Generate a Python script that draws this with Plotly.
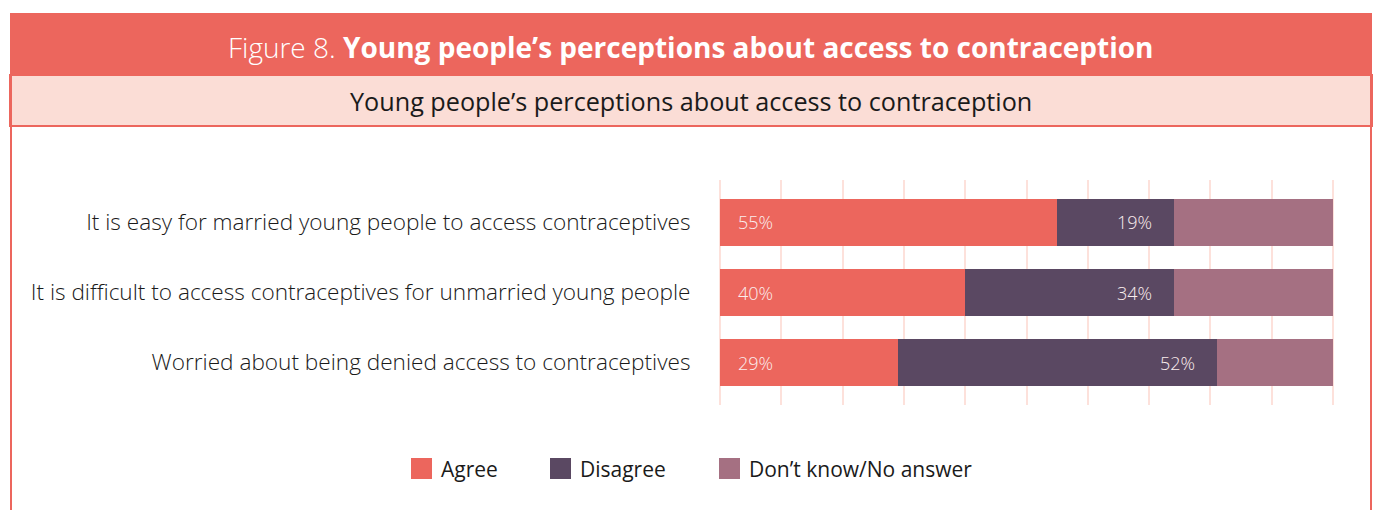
import plotly.graph_objects as go

categories = [
    "It is easy for married young people to access contraceptives",
    "It is difficult to access contraceptives for unmarried young people",
    "Worried about being denied access to contraceptives",
]
series_names = ["Agree", "Disagree", "Don’t know/No answer"]
agree = [55, 40, 29]
disagree = [19, 34, 52]
dont_know = [26, 26, 19]
colors = ["#ec665d", "#5a4862", "#a57082"]

W, H = 1378, 510
FONT = "Open Sans"

fig = go.Figure()
values = [agree, disagree, dont_know]
for name, vals, col in zip(series_names, values, colors):
    fig.add_trace(go.Bar(
        y=categories, x=vals, name=name, orientation="h",
        marker=dict(color=col, line=dict(width=0)),
        width=0.67, showlegend=False, hoverinfo="skip",
    ))

annotations = []
LABEL_FONT = dict(family=FONT, size=18, color="#fbeeee", weight=300)
for i, cat in enumerate(categories):
    annotations.append(dict(
        x=0, y=cat, xref="x", yref="y", text=f"{agree[i]}%",
        xanchor="left", xshift=16, showarrow=False, font=LABEL_FONT,
    ))
    annotations.append(dict(
        x=agree[i] + disagree[i], y=cat, xref="x", yref="y", text=f"{disagree[i]}%",
        xanchor="right", xshift=-20, showarrow=False, font=LABEL_FONT,
    ))

# header texts
annotations.append(dict(
    x=691 / W, y=1 - 47 / H, xref="paper", yref="paper",
    text="Figure 8. <b>Young people’s perceptions about access to contraception</b>",
    showarrow=False, xanchor="center", yanchor="middle",
    font=dict(family=FONT, size=28, color="white", weight=300),
))
annotations.append(dict(
    x=691 / W, y=1 - 101 / H, xref="paper", yref="paper",
    text="Young people’s perceptions about access to contraception",
    showarrow=False, xanchor="center", yanchor="middle",
    font=dict(family=FONT, size=25.2, color="#1a1a1a"),
))

RED = "#ec665d"
shapes = [
    dict(type="rect", xref="paper", yref="paper", x0=10 / W, x1=1372 / W,
         y0=1 - 75 / H, y1=1 - 13 / H, fillcolor=RED, line=dict(width=0), layer="below"),
    dict(type="rect", xref="paper", yref="paper", x0=10 / W, x1=1372 / W,
         y0=1 - 126 / H, y1=1 - 75 / H, fillcolor="#fbddd6",
         line=dict(color=RED, width=2), layer="below"),
    dict(type="line", xref="paper", yref="paper", x0=11 / W, x1=11 / W,
         y0=0, y1=1 - 75 / H, line=dict(color=RED, width=2)),
    dict(type="line", xref="paper", yref="paper", x0=1371 / W, x1=1371 / W,
         y0=0, y1=1 - 75 / H, line=dict(color=RED, width=2)),
]

# legend (drawn as swatches + text)
legend_x = [411, 550, 719]
legend_yc = 468.5
SW = 21
for name, col, lx in zip(series_names, colors, legend_x):
    shapes.append(dict(type="rect", xref="paper", yref="paper",
                       x0=lx / W, x1=(lx + SW) / W,
                       y0=1 - (legend_yc + SW / 2) / H, y1=1 - (legend_yc - SW / 2) / H,
                       fillcolor=col, line=dict(width=0)))
    annotations.append(dict(
        x=(lx + SW + 7) / W, y=1 - legend_yc / H, xref="paper", yref="paper",
        text=name, showarrow=False, xanchor="left", yanchor="middle",
        font=dict(family=FONT, size=21, color="#1a1a1a"),
    ))

PX = (1333 - 720) / 100.0
PAD = 0.5
fig.update_layout(
    width=W, height=H,
    margin=dict(l=0, r=0, t=0, b=0),
    paper_bgcolor="white", plot_bgcolor="white",
    barmode="stack",
    showlegend=False,
    xaxis=dict(domain=[(720 - PAD * PX) / W, (1333 + PAD * PX) / W], range=[-PAD, 100 + PAD],
               tick0=0, dtick=10, showgrid=True,
               gridcolor="#fde1db", gridwidth=2, zeroline=False, showticklabels=False,
               showline=False, fixedrange=True),
    yaxis=dict(domain=[1 - 405 / H, 1 - 180 / H], autorange=False, range=[2.607, -0.607],
               categoryorder="array", categoryarray=categories,
               showgrid=False, zeroline=False, ticks="outside", ticklen=24 - PAD * PX,
               tickcolor="rgba(0,0,0,0)",
               tickfont=dict(family=FONT, size=22.6, color="#1a1a1a", weight=300)),
    annotations=annotations,
    shapes=shapes,
)

fig.write_html("out.html")
